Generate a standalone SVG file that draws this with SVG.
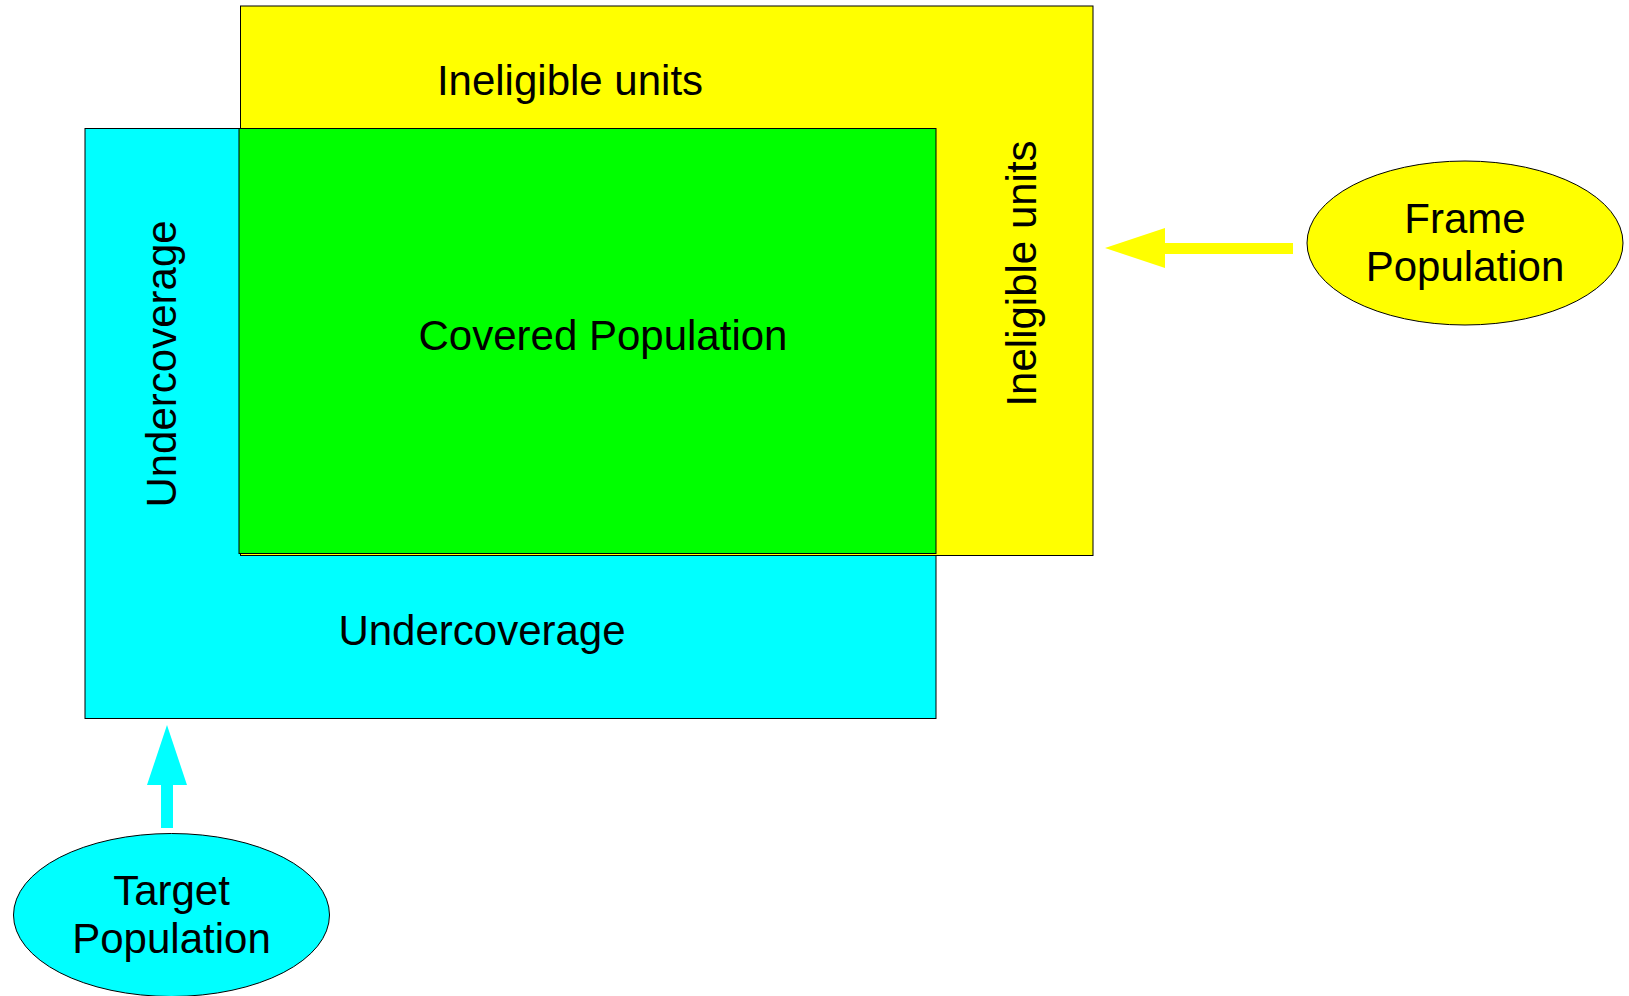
<svg xmlns="http://www.w3.org/2000/svg" width="1629" height="996" viewBox="0 0 1629 996">
<style>
.box{stroke:#000;stroke-width:1}
.lbl{font-family:"Liberation Sans",Arial,sans-serif;font-size:42px;fill:#000;text-anchor:middle}
</style>
<rect width="1629" height="996" fill="#fff"/>
<g id="target-area">
<rect class="box" x="85" y="128.5" width="851" height="590" fill="#00ffff"/>
</g>
<g id="frame-area">
<rect class="box" x="240.5" y="6" width="852.5" height="549.5" fill="#ffff00"/>
</g>
<g id="covered">
<rect class="box" x="239" y="128.5" width="697" height="425" fill="#00ff00"/>
<text class="lbl" x="603" y="350">Covered Population</text>
</g>
<g id="ineligible-top"><text class="lbl" x="570" y="95">Ineligible units</text></g>
<g id="ineligible-right"><text class="lbl" transform="translate(1036,273.5) rotate(-90)">Ineligible units</text></g>
<g id="undercoverage-left"><text class="lbl" transform="translate(176,364) rotate(-90)">Undercoverage</text></g>
<g id="undercoverage-bottom"><text class="lbl" x="482" y="645">Undercoverage</text></g>
<g id="frame-population">
<ellipse class="box" cx="1465" cy="243" rx="158" ry="82" fill="#ffff00"/>
<text class="lbl" x="1465" y="233">Frame</text>
<text class="lbl" x="1465" y="281">Population</text>
</g>
<g id="target-population">
<ellipse class="box" cx="171.5" cy="915" rx="158" ry="81.5" fill="#00ffff"/>
<text class="lbl" x="171.5" y="905">Target</text>
<text class="lbl" x="171.5" y="953">Population</text>
</g>
<g id="connectors">
<polygon points="1105,248 1165,228 1165,243 1293,243 1293,254 1165,254 1165,268" fill="#ffff00"/>
<polygon points="167,725 187,785 173,785 173,828 161,828 161,785 147,785" fill="#00ffff"/>
</g>
</svg>
